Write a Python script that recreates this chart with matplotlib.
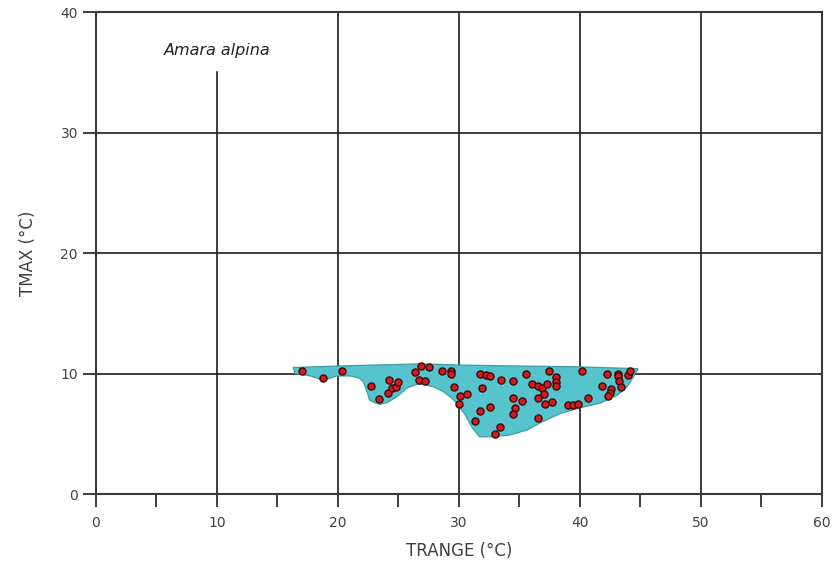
import numpy as np
import matplotlib
matplotlib.use("Agg")
import matplotlib.pyplot as plt
from matplotlib.patches import Polygon

# occurrence records: temperature range vs. max temperature
trange = [17.0, 18.8, 20.3, 22.7, 23.4, 24.2, 24.1, 24.5, 24.8, 25.0,
          26.4, 26.9, 27.5, 26.7, 27.2, 28.6, 29.3, 29.3, 29.6, 30.1,
          30.0, 30.7, 31.7, 32.2, 32.6, 33.5, 34.5, 35.5, 37.4, 38.0,
          38.0, 38.0, 36.0, 36.5, 36.9, 37.3, 37.0, 36.5, 31.9, 34.5,
          35.2, 31.7, 32.6, 34.6, 34.5, 31.3, 33.4, 33.0, 36.5, 37.1,
          37.7, 39.0, 39.4, 39.8, 40.2, 40.7, 42.2, 43.1, 43.1, 43.2,
          44.0, 44.1, 41.8, 43.4, 42.6, 42.5, 42.3]
tmax = [10.2, 9.6, 10.2, 9.0, 7.9, 9.5, 8.4, 8.8, 8.9, 9.3,
        10.1, 10.6, 10.5, 9.5, 9.4, 10.2, 10.2, 10.0, 8.9, 8.1,
        7.5, 8.3, 10.0, 9.9, 9.8, 9.5, 9.4, 10.0, 10.2, 9.7,
        9.3, 9.0, 9.1, 9.0, 8.8, 9.1, 8.3, 8.0, 8.8, 8.0,
        7.7, 6.9, 7.2, 7.1, 6.6, 6.1, 5.6, 5.0, 6.3, 7.5,
        7.6, 7.4, 7.4, 7.5, 10.2, 8.0, 10.0, 10.0, 9.8, 9.4,
        9.9, 10.2, 9.0, 8.9, 8.7, 8.4, 8.1]

# outline of the climate envelope (TRANGE, TMAX)
env_x = [16.3, 16.45, 17.7, 18.3, 18.8, 19.3, 19.9, 21.0, 21.8, 22.1,
         22.4, 22.6, 23.1, 23.5, 24.1, 24.9, 25.7, 26.5, 27.0, 27.9,
         28.7, 29.3, 29.8, 30.5, 31.1, 31.7, 32.8, 34.2, 35.6, 36.9,
         38.4, 40.0, 41.7, 43.1, 43.9, 44.4, 44.8, 40.0, 30.1, 26.9, 21.0]
env_y = [10.5, 10.0, 9.8, 9.6, 9.4, 9.6, 9.8, 9.8, 9.6, 9.3,
         8.5, 7.8, 7.55, 7.45, 7.6, 8.1, 8.8, 9.1, 9.1, 8.9,
         8.5, 8.05, 7.55, 6.6, 5.5, 4.75, 4.75, 4.9, 5.3, 6.0,
         6.7, 7.15, 7.55, 8.2, 8.9, 9.7, 10.4, 10.55, 10.7, 10.8, 10.65]

x_major = [0, 10, 20, 30, 40, 50, 60]
x_minor = [5, 15, 25, 35, 45, 55]
y_major = [0, 10, 20, 30, 40]
species = "Amara alpina"
label_x, label_line_top = 10, 35

line_col = "#1c1c1c"
text_col = "#404040"

fig = plt.figure(figsize=(8.34, 5.69), dpi=100)
ax = fig.add_axes([0.1151, 0.1318, 0.8705, 0.8471])
ax.set_xlim(0, 60)
ax.set_ylim(0, 40)

# grid: the line under the species name stops short of the label
for gx in x_major[1:-1]:
    top = label_line_top if gx == label_x else 40
    ax.plot([gx, gx], [0, top], color=line_col, lw=1.2, zorder=1)
for gy in y_major[1:-1]:
    ax.plot([0, 60], [gy, gy], color=line_col, lw=1.2, zorder=1)

env = Polygon(np.column_stack([env_x, env_y]), closed=True,
              facecolor="#55c4cc", edgecolor="#3c9ea4", lw=0.9, zorder=2)
ax.add_patch(env)

ax.scatter(trange, tmax, s=26, c="#d51a1f", edgecolors="#3a0a0a",
           linewidths=1.0, zorder=3)

ax.text(label_x, 36.8, species, style="italic", fontsize=11.5,
        color="#222222", ha="center", va="center")

ax.set_xticks(x_major)
ax.set_xticks(x_minor, minor=True)
ax.set_yticks(y_major)
ax.tick_params(axis="x", which="both", direction="out", length=9.5,
               width=1.2, color=line_col, pad=6, labelsize=10,
               labelcolor=text_col)
ax.tick_params(axis="y", direction="out", length=9.5, width=1.2,
               color=line_col, pad=3.5, labelsize=10, labelcolor=text_col)
for sp in ax.spines.values():
    sp.set_color("#3a3a3a")
    sp.set_linewidth(1.5)

ax.set_xlabel("TRANGE (°C)", fontsize=12, color=text_col, labelpad=9)
ax.set_ylabel("TMAX (°C)", fontsize=12, color=text_col, labelpad=17)

fig.savefig("out.png", dpi=100)
